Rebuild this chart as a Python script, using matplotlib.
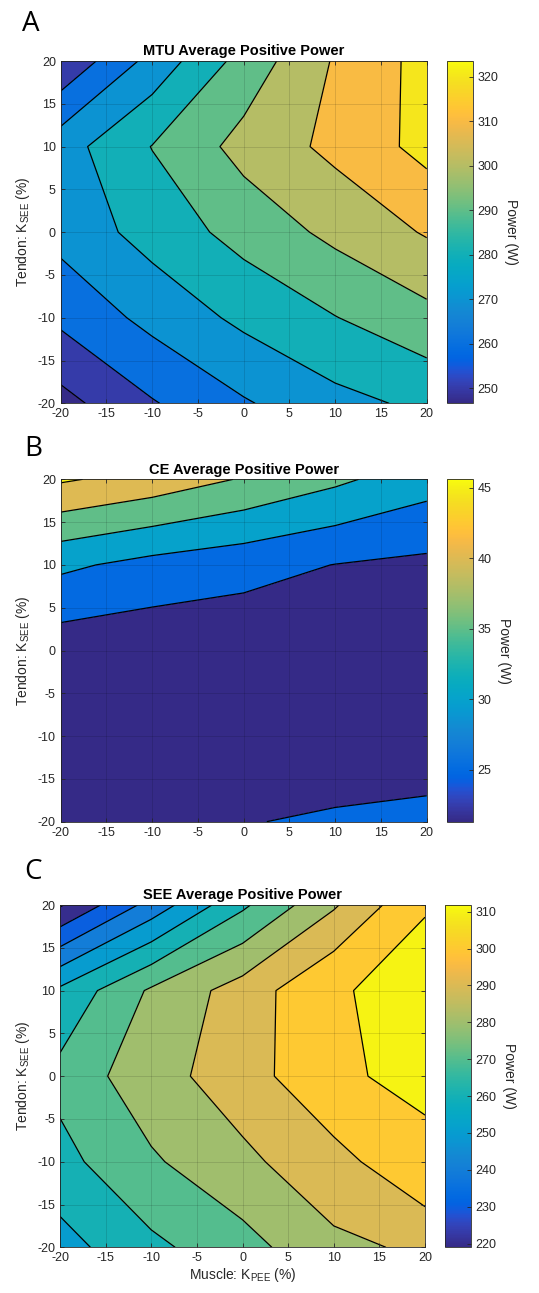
import numpy as np
import matplotlib
matplotlib.use('Agg')
import matplotlib.pyplot as plt
from matplotlib.colors import LinearSegmentedColormap, Normalize
from matplotlib.cm import ScalarMappable

plt.rcParams['font.family'] = ['Liberation Sans', 'DejaVu Sans']
plt.rcParams['axes.unicode_minus'] = False

# stiffness changes (%) on the grid
k_pee = [-20, -10, 0, 10, 20]
k_see = [-20, -10, 0, 10, 20]

# rows = K_SEE (-20 .. 20), columns = K_PEE (-20 .. 20), power in W
mtu_power = [
    [246.6, 259.2, 269.0, 277.0, 282.1],
    [262.2, 273.0, 282.3, 289.7, 297.0],
    [273.4, 283.9, 293.6, 302.5, 310.9],
    [275.7, 290.3, 303.4, 312.5, 323.2],
    [251.5, 273.4, 293.8, 311.0, 323.5],
]
ce_power = [
    [22.0, 23.0, 24.8, 25.6, 26.0],
    [21.6, 21.6, 21.8, 22.0, 22.7],
    [22.1, 21.5, 21.3, 21.6, 22.0],
    [31.0, 28.4, 26.8, 24.9, 23.9],
    [45.6, 43.1, 39.6, 36.0, 32.1],
]
see_power = [
    [256.1, 267.8, 276.2, 288.0, 291.5],
    [266.9, 278.6, 288.0, 296.0, 309.4],
    [273.0, 286.4, 294.8, 309.7, 310.5],
    [262.0, 281.5, 294.5, 309.5, 311.8],
    [219.0, 243.7, 268.2, 288.8, 309.7],
]

mtu_levels = [250, 260, 270, 280, 290, 300, 310, 320]
ce_levels = [25, 30, 35, 40, 45]
see_levels = [220, 230, 240, 250, 260, 270, 280, 290, 300, 310]

mtu_ticks = [250, 260, 270, 280, 290, 300, 310, 320]
ce_ticks = [25, 30, 35, 40, 45]
see_ticks = [220, 230, 240, 250, 260, 270, 280, 290, 300, 310]

axis_ticks = [-20, -15, -10, -5, 0, 5, 10, 15, 20]

# MATLAB parula (64 entries)
parula_data = [
    [0.2081, 0.1663, 0.5292], [0.2116, 0.1898, 0.5777], [0.2123, 0.2138, 0.6270],
    [0.2081, 0.2386, 0.6771], [0.1959, 0.2645, 0.7279], [0.1707, 0.2919, 0.7792],
    [0.1253, 0.3242, 0.8303], [0.0591, 0.3598, 0.8683], [0.0117, 0.3875, 0.8820],
    [0.0060, 0.4086, 0.8828], [0.0165, 0.4266, 0.8786], [0.0329, 0.4430, 0.8720],
    [0.0498, 0.4586, 0.8641], [0.0629, 0.4737, 0.8554], [0.0723, 0.4887, 0.8467],
    [0.0779, 0.5040, 0.8384], [0.0793, 0.5200, 0.8312], [0.0749, 0.5375, 0.8263],
    [0.0641, 0.5570, 0.8240], [0.0488, 0.5772, 0.8228], [0.0343, 0.5966, 0.8199],
    [0.0265, 0.6137, 0.8135], [0.0239, 0.6287, 0.8038], [0.0231, 0.6418, 0.7913],
    [0.0228, 0.6535, 0.7768], [0.0267, 0.6642, 0.7607], [0.0384, 0.6743, 0.7436],
    [0.0590, 0.6838, 0.7254], [0.0843, 0.6928, 0.7062], [0.1133, 0.7015, 0.6859],
    [0.1453, 0.7098, 0.6646], [0.1801, 0.7177, 0.6424], [0.2178, 0.7250, 0.6193],
    [0.2586, 0.7317, 0.5954], [0.3022, 0.7376, 0.5712], [0.3482, 0.7424, 0.5473],
    [0.3953, 0.7459, 0.5244], [0.4420, 0.7481, 0.5033], [0.4871, 0.7491, 0.4840],
    [0.5300, 0.7491, 0.4661], [0.5709, 0.7485, 0.4494], [0.6099, 0.7473, 0.4337],
    [0.6473, 0.7456, 0.4188], [0.6834, 0.7435, 0.4044], [0.7184, 0.7411, 0.3905],
    [0.7525, 0.7384, 0.3768], [0.7858, 0.7356, 0.3633], [0.8185, 0.7327, 0.3498],
    [0.8507, 0.7299, 0.3360], [0.8824, 0.7274, 0.3217], [0.9139, 0.7258, 0.3063],
    [0.9450, 0.7261, 0.2886], [0.9739, 0.7314, 0.2666], [0.9938, 0.7455, 0.2403],
    [0.9990, 0.7653, 0.2164], [0.9955, 0.7861, 0.1967], [0.9880, 0.8066, 0.1794],
    [0.9789, 0.8271, 0.1633], [0.9697, 0.8481, 0.1475], [0.9626, 0.8705, 0.1309],
    [0.9589, 0.8949, 0.1132], [0.9598, 0.9218, 0.0948], [0.9661, 0.9514, 0.0755],
    [0.9763, 0.9831, 0.0538],
]
parula = LinearSegmentedColormap.from_list('parula', parula_data)

W, H = 539, 1293
txt_col = '#262626'


def draw_panel(fig, ax_box, cb_box, z, levels, cticks, title, letter, letter_xy, xlabel=None):
    z = np.array(z)
    vmin, vmax = z.min(), z.max()
    norm = Normalize(vmin, vmax)
    # matlab style: each band gets the colour of its lower level
    bounds = [vmin - 1e-6] + [l for l in levels if vmin < l < vmax] + [vmax + 1e-6]
    cols = [parula(norm(max(b, vmin))) for b in bounds[:-1]]

    ax = fig.add_axes([ax_box[0] / W, 1 - ax_box[3] / H, (ax_box[2] - ax_box[0]) / W,
                       (ax_box[3] - ax_box[1]) / H])
    ax.contourf(k_pee, k_see, z, levels=bounds, colors=cols)
    ax.contour(k_pee, k_see, z, levels=bounds[1:-1], colors='black', linewidths=0.9)
    ax.set_xlim(-20, 20)
    ax.set_ylim(-20, 20)
    ax.set_xticks(axis_ticks)
    ax.set_yticks(axis_ticks)
    ax.set_axisbelow(False)
    ax.grid(True, color='#000000', alpha=0.12, linewidth=0.7)
    ax.tick_params(direction='in', top=True, right=True, labelsize=9, colors=txt_col,
                   length=3, width=0.6)
    for sp in ax.spines.values():
        sp.set_color('#262626')
        sp.set_linewidth(0.6)
    ax.set_title(title, fontsize=10.5, fontweight='bold', pad=4, color='black')
    ax.set_ylabel('Tendon: K$_{\\mathregular{SEE}}$ (%)', fontsize=10, color=txt_col, labelpad=4)
    if xlabel:
        ax.set_xlabel(xlabel, fontsize=10, color=txt_col, labelpad=1)

    cax = fig.add_axes([cb_box[0] / W, 1 - cb_box[3] / H, (cb_box[2] - cb_box[0]) / W,
                        (cb_box[3] - cb_box[1]) / H])
    sm = ScalarMappable(norm=norm, cmap=parula)
    cb = fig.colorbar(sm, cax=cax, ticks=cticks)
    cb.outline.set_linewidth(0.6)
    cb.outline.set_edgecolor('#262626')
    cax.tick_params(direction='in', labelsize=9, colors=txt_col, length=3, width=0.6)
    cb.set_label('Power (W)', rotation=270, fontsize=10, color=txt_col, labelpad=14)

    fig.text(letter_xy[0] / W, 1 - letter_xy[1] / H, letter, fontsize=20,
             family=['Open Sans', 'DejaVu Sans'], va='baseline', ha='left')
    return ax


fig = plt.figure(figsize=(W / 100, H / 100), dpi=100)
fig.patch.set_facecolor('white')

draw_panel(fig, (60.7, 61, 426.7, 403.3), (446.7, 61, 472.7, 403.3), mtu_power, mtu_levels,
           mtu_ticks, 'MTU Average Positive Power', 'A', (22, 31))
draw_panel(fig, (60.7, 479.3, 426.7, 821.7), (446.7, 479.3, 472.7, 821.7), ce_power, ce_levels,
           ce_ticks, 'CE Average Positive Power', 'B', (24, 456))
draw_panel(fig, (60, 905, 425, 1247.3), (445, 905, 470.7, 1247.3), see_power, see_levels,
           see_ticks, 'SEE Average Positive Power', 'C', (24, 879),
           xlabel='Muscle: K$_{\\mathregular{PEE}}$ (%)')

fig.savefig('out.png', dpi=100)
